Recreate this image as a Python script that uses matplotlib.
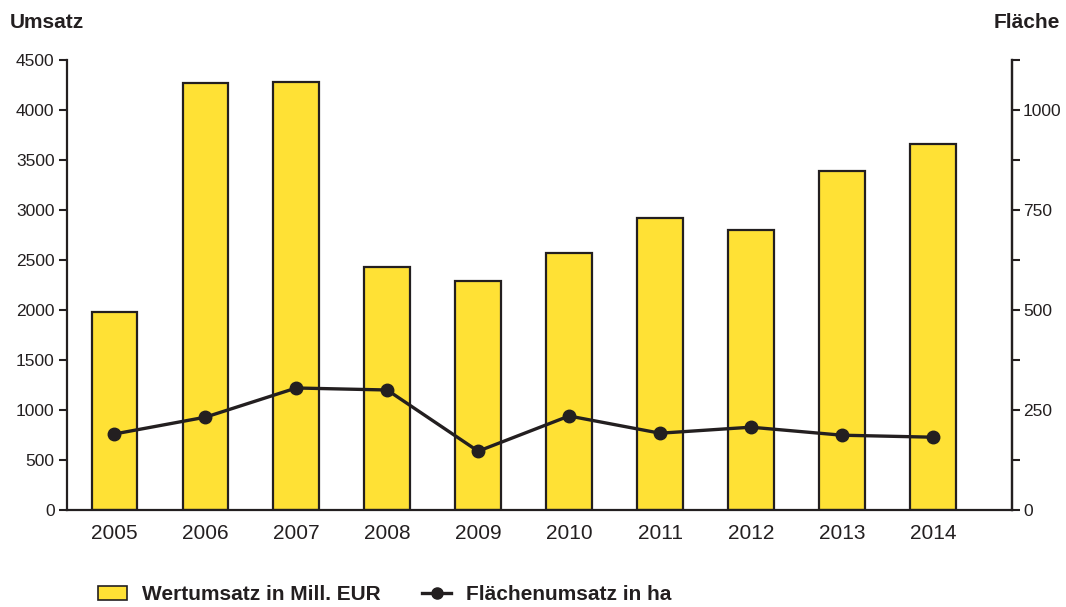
import matplotlib.pyplot as plt
from matplotlib.ticker import MultipleLocator
from matplotlib.lines import Line2D
from matplotlib.patches import Patch
import numpy as np

plt.rcParams['font.family'] = ['Liberation Sans', 'DejaVu Sans']

years = ['2005', '2006', '2007', '2008', '2009', '2010', '2011', '2012', '2013', '2014']
wertumsatz = [1980, 4270, 4280, 2430, 2290, 2570, 2920, 2800, 3390, 3660]
flaeche = [190, 232, 305, 300, 147, 235, 192, 207, 187, 182]

dark = '#231f20'
yellow = '#ffe135'

fig = plt.figure(figsize=(10.66, 6.07), dpi=100)
ax = fig.add_axes([0.0629, 0.1598, 0.8864, 0.7414])
x = np.arange(len(years))

ax.bar(x, wertumsatz, width=0.5, color=yellow, edgecolor=dark, linewidth=1.6, zorder=2)
ax.set_xlim(-0.52, 9.87)
ax.set_ylim(0, 4500)
ax.yaxis.set_major_locator(MultipleLocator(500))
ax.set_xticks(x)
ax.set_xticklabels(years, fontsize=15, color=dark)
ax.tick_params(axis='x', length=0, pad=10)
ax.tick_params(axis='y', direction='out', length=6, width=1.5, labelsize=12.5,
               colors=dark, pad=3)
ax.spines['top'].set_visible(False)
for s in ['left', 'bottom', 'right']:
    ax.spines[s].set_linewidth(1.6)
    ax.spines[s].set_color(dark)

ax2 = ax.twinx()
ax2.plot(x, flaeche, color=dark, linewidth=2.4, marker='o', markersize=9, zorder=3)
ax2.set_ylim(0, 1125)
ax2.yaxis.set_major_locator(MultipleLocator(250))
ax2.yaxis.set_minor_locator(MultipleLocator(125))
ax2.tick_params(axis='y', which='both', direction='out', length=6, width=1.5,
                labelsize=12.5, colors=dark, pad=2)
ax2.spines['top'].set_visible(False)
ax2.spines['left'].set_visible(False)
ax2.spines['bottom'].set_visible(False)
ax2.spines['right'].set_linewidth(1.6)
ax2.spines['right'].set_color(dark)

fig.text(10 / 1066, 1 - 22 / 607, 'Umsatz', fontsize=15, fontweight='bold',
         color=dark, ha='left', va='center')
fig.text(1060 / 1066, 1 - 22 / 607, 'Fläche', fontsize=15, fontweight='bold',
         color=dark, ha='right', va='center')

handles = [Patch(facecolor=yellow, edgecolor=dark, linewidth=1.2),
           Line2D([0], [0], color=dark, linewidth=2.4, marker='o', markersize=8)]
labels = ['Wertumsatz in Mill. EUR', 'Flächenumsatz in ha']
fig.legend(handles, labels, loc='center', bbox_to_anchor=(0.361, 0.02), ncol=2,
           frameon=False, prop={'size': 15, 'weight': 'bold'}, columnspacing=2.0,
           handlelength=1.4, handleheight=0.65, handletextpad=0.7, labelcolor=dark)

fig.savefig('out.png', dpi=100)
